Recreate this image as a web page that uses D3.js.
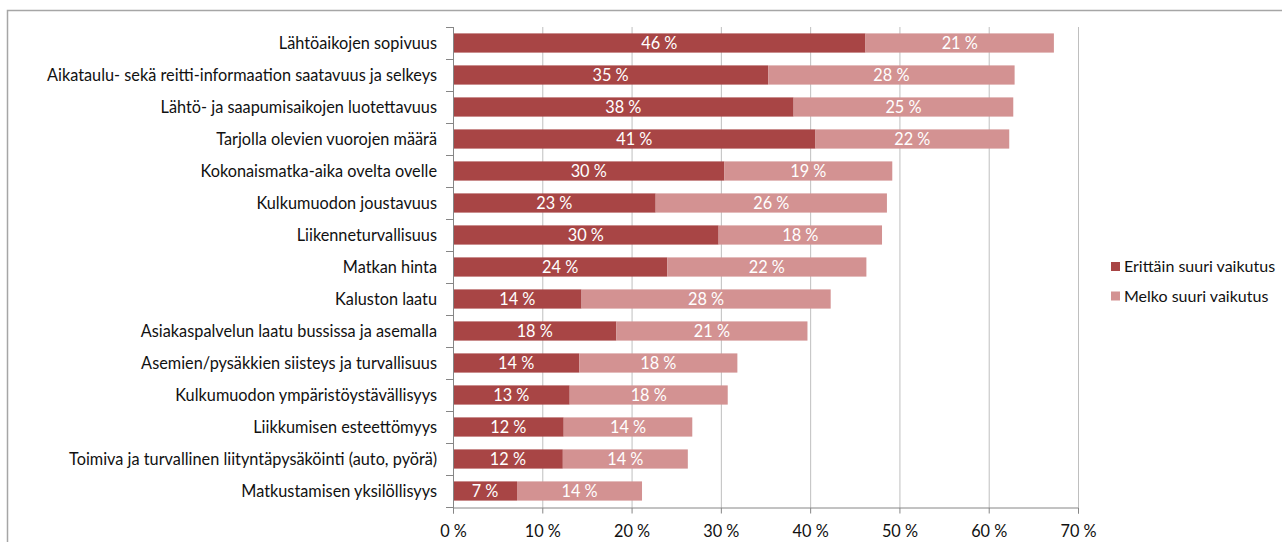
<!DOCTYPE html>
<html lang="fi">
<head>
    <meta charset="UTF-8">
    <title>Vaikutus kulkumuodon valintaan</title>
    <style>
        body {
            margin: 0;
            background: #fff;
            font-family: Lato, "Open Sans", sans-serif;
        }
        svg text {
            fill: #111;
        }
    </style>
</head>
<body>

<div id="chart"></div>

<script src="https://d3js.org/d3.v7.min.js"></script>
<script>
    const categories = [
        "Lähtöaikojen sopivuus",
        "Aikataulu- sekä reitti-informaation saatavuus ja selkeys",
        "Lähtö- ja saapumisaikojen luotettavuus",
        "Tarjolla olevien vuorojen määrä",
        "Kokonaismatka-aika ovelta ovelle",
        "Kulkumuodon joustavuus",
        "Liikenneturvallisuus",
        "Matkan hinta",
        "Kaluston laatu",
        "Asiakaspalvelun laatu bussissa ja asemalla",
        "Asemien/pysäkkien siisteys ja turvallisuus",
        "Kulkumuodon ympäristöystävällisyys",
        "Liikkumisen esteettömyys",
        "Toimiva ja turvallinen liityntäpysäköinti (auto, pyörä)",
        "Matkustamisen yksilöllisyys"
    ];
    const erittain = [46.2, 35.3, 38.15, 40.6, 30.4, 22.7, 29.75, 24.0, 14.4, 18.3, 14.15, 13.07, 12.4, 12.3, 7.17];
    const melko = [21.1, 27.6, 24.6, 21.7, 18.8, 25.9, 18.3, 22.3, 27.9, 21.4, 17.7, 17.7, 14.4, 14.0, 14.0];
    const seriesNames = ["Erittäin suuri vaikutus", "Melko suuri vaikutus"];
    const xTicks = [0, 10, 20, 30, 40, 50, 60, 70];

    const colors = ["#a84545", "#d39292"];
    const width = 1282;
    const height = 542;
    const margin = { top: 27, left: 453, bottom: 35 };
    const plotRight = 1078;

    const svg = d3.select("#chart")
        .append("svg")
        .attr("width", width)
        .attr("height", height);

    // outer frame (top and left edges visible)
    svg.append("path")
        .attr("d", `M7.5,${height} V10.5 H${width}`)
        .attr("fill", "none")
        .attr("stroke", "#a6a6a6")
        .attr("stroke-width", 1.5);

    const x = d3.scaleLinear()
        .domain([0, 70])
        .range([margin.left, plotRight]);

    const y = d3.scaleBand()
        .domain(categories)
        .range([margin.top, height - margin.bottom])
        .paddingInner(0.4)
        .paddingOuter(0.2);

    // gridlines
    svg.append("g")
        .selectAll("line")
        .data(xTicks.slice(1))
        .enter()
        .append("line")
        .attr("x1", d => x(d) + 0.5)
        .attr("x2", d => x(d) + 0.5)
        .attr("y1", margin.top)
        .attr("y2", height - margin.bottom)
        .attr("stroke", "#bfbfbf")
        .attr("stroke-width", 1);

    // stacked data
    const rows = categories.map((c, i) => ({ cat: c, a: erittain[i], b: melko[i] }));
    const stack = d3.stack().keys(["a", "b"])(rows);

    const layer = svg.append("g")
        .selectAll("g")
        .data(stack)
        .enter()
        .append("g")
        .attr("fill", (d, i) => colors[i]);

    layer.selectAll("rect")
        .data(d => d)
        .enter()
        .append("rect")
        .attr("x", d => x(d[0]))
        .attr("y", d => y(d.data.cat))
        .attr("width", d => x(d[1]) - x(d[0]))
        .attr("height", y.bandwidth());

    layer.selectAll("text")
        .data(d => d)
        .enter()
        .append("text")
        .attr("x", d => (x(d[0]) + x(d[1])) / 2)
        .attr("y", d => y(d.data.cat) + y.bandwidth() / 2)
        .attr("dy", "0.36em")
        .attr("text-anchor", "middle")
        .attr("font-size", 16.3)
        .style("fill", "#fff")
        .text(d => Math.round(d[1] - d[0]) + " %");

    // x axis
    const xAxis = svg.append("g")
        .attr("transform", `translate(0,${height - margin.bottom + 0.5})`)
        .call(d3.axisBottom(x).tickValues(xTicks).tickSize(6).tickFormat(d => d + " %"));
    xAxis.select(".domain").attr("stroke", "#868686");
    xAxis.selectAll(".tick line").attr("stroke", "#868686");
    xAxis.selectAll(".tick text")
        .attr("font-size", 16.3)
        .attr("font-family", "Lato, sans-serif")
        .attr("dy", "1.25em")
        .style("fill", "#111");

    // y axis: ticks at band boundaries
    const step = y.step();
    const bounds = d3.range(categories.length + 1).map(i => margin.top + i * step);
    svg.append("line")
        .attr("x1", margin.left + 0.5)
        .attr("x2", margin.left + 0.5)
        .attr("y1", margin.top)
        .attr("y2", height - margin.bottom + 6)
        .attr("stroke", "#868686");
    svg.append("g")
        .selectAll("line")
        .data(bounds)
        .enter()
        .append("line")
        .attr("x1", margin.left - 7)
        .attr("x2", margin.left)
        .attr("y1", d => d + 0.5)
        .attr("y2", d => d + 0.5)
        .attr("stroke", "#868686");

    svg.append("g")
        .selectAll("text")
        .data(categories)
        .enter()
        .append("text")
        .attr("x", margin.left - 16)
        .attr("y", d => y(d) + y.bandwidth() / 2)
        .attr("dy", "0.36em")
        .attr("text-anchor", "end")
        .attr("font-size", 16.3)
        .text(d => d);

    // legend
    const legend = svg.append("g")
        .selectAll("g")
        .data(seriesNames)
        .enter()
        .append("g")
        .attr("transform", (d, i) => `translate(1111,${262 + i * 29.5})`);
    legend.append("rect")
        .attr("width", 9)
        .attr("height", 9)
        .attr("fill", (d, i) => colors[i]);
    legend.append("text")
        .attr("x", 13)
        .attr("y", 4.5)
        .attr("dy", "0.36em")
        .attr("font-size", 16)
        .text(d => d);
</script>

</body>
</html>
